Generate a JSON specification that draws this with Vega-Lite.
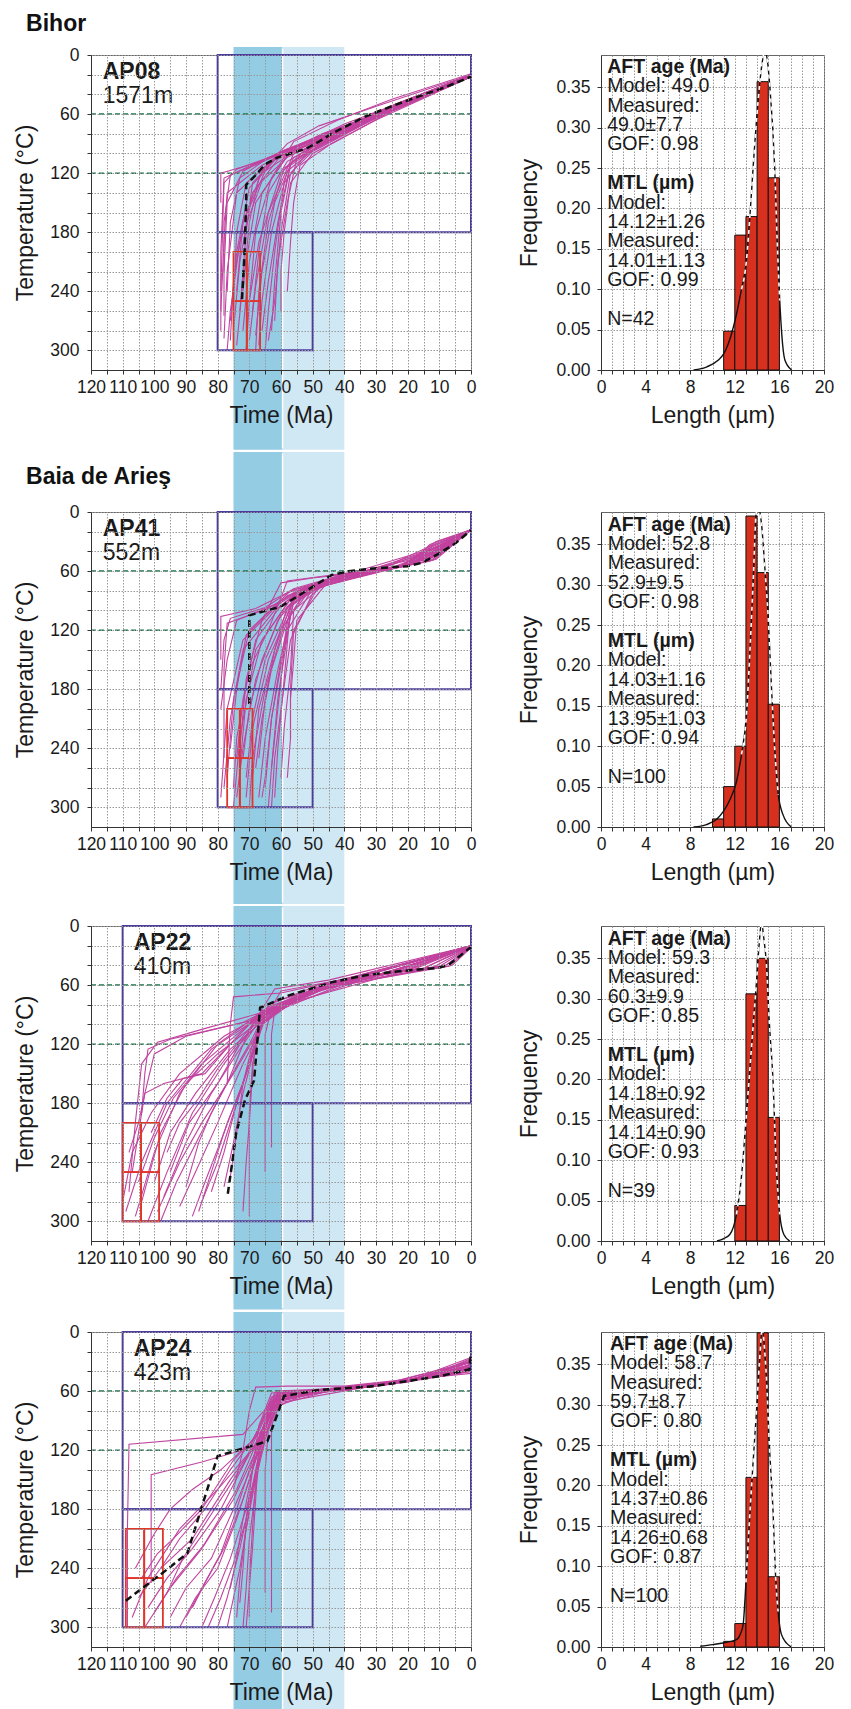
{
  "$schema": "https://vega.github.io/schema/vega-lite/v6.json",
  "background": "white",
  "padding": {"left": 14, "top": 12, "right": 0, "bottom": 0},
  "config": {
    "font": "Liberation Sans",
    "view": {"stroke": "#666", "strokeWidth": 1},
    "axis": {"labelFontSize": 17.5, "labelColor": "#1a1a1a", "titleFontSize": 23, "titleFontWeight": "normal", "titleColor": "#1a1a1a", "domainColor": "#333", "tickColor": "#333", "tickSize": 4, "gridColor": "#999", "gridDash": [1.5, 1.5], "gridWidth": 1, "labelOverlap": false, "labelFlush": false, "labelBound": false},
    "text": {"font": "Liberation Sans", "color": "#1a1a1a"}
  },
  "datasets": {
    "bands": [{"b": "d", "t": 75, "t2": 59.5}, {"b": "l", "t": 59.5, "t2": 40}],
    "green": [{"T": 60}, {"T": 120}],
    "boxA": [{"t": 80, "t2": 0, "T": 0, "T2": 180}, {"t": 80, "t2": 50, "T": 180, "T2": 300}],
    "boxB": [{"t": 110, "t2": 0, "T": 0, "T2": 180}, {"t": 110, "t2": 50, "T": 180, "T2": 300}],
    "r1": [{"t": 75, "t2": 70.8, "T": 200, "T2": 250}, {"t": 70.8, "t2": 66.6, "T": 200, "T2": 250}, {"t": 75, "t2": 70.8, "T": 250, "T2": 300}, {"t": 70.8, "t2": 66.6, "T": 250, "T2": 300}],
    "r2": [{"t": 77, "t2": 73, "T": 200, "T2": 250}, {"t": 73, "t2": 69, "T": 200, "T2": 250}, {"t": 77, "t2": 73, "T": 250, "T2": 300}, {"t": 73, "t2": 69, "T": 250, "T2": 300}],
    "r3": [{"t": 110, "t2": 104.2, "T": 200, "T2": 250}, {"t": 104.2, "t2": 98.5, "T": 200, "T2": 250}, {"t": 110, "t2": 104.2, "T": 250, "T2": 300}, {"t": 104.2, "t2": 98.5, "T": 250, "T2": 300}],
    "r4": [{"t": 109, "t2": 103.2, "T": 200, "T2": 250}, {"t": 103.2, "t2": 97.3, "T": 200, "T2": 250}, {"t": 109, "t2": 103.2, "T": 250, "T2": 300}, {"t": 103.2, "t2": 97.3, "T": 250, "T2": 300}],
    "b1": [{"t": 72.3, "T": 248}, {"t": 71.5, "T": 200}, {"t": 71, "T": 150}, {"t": 71, "T": 132}, {"t": 68, "T": 122}, {"t": 65, "T": 111}, {"t": 61, "T": 104}, {"t": 57, "T": 100}, {"t": 52, "T": 95}, {"t": 48, "T": 88}, {"t": 44, "T": 80}, {"t": 38, "T": 70}, {"t": 33, "T": 62}, {"t": 25, "T": 52}, {"t": 17.3, "T": 43}, {"t": 8, "T": 32.5}, {"t": 0, "T": 22}],
    "b2": [{"t": 70, "T": 195}, {"t": 70, "T": 105}, {"t": 60, "T": 96}, {"t": 54, "T": 84}, {"t": 49, "T": 74}, {"t": 44, "T": 64}, {"t": 38, "T": 60}, {"t": 33, "T": 58}, {"t": 25, "T": 56}, {"t": 20, "T": 55}, {"t": 15.4, "T": 51.5}, {"t": 10, "T": 42}, {"t": 5, "T": 32}, {"t": 0, "T": 18.6}],
    "b3": [{"t": 76.8, "T": 272}, {"t": 75.3, "T": 238}, {"t": 74.2, "T": 211}, {"t": 71.4, "T": 177}, {"t": 68.5, "T": 157}, {"t": 66.6, "T": 83}, {"t": 57.5, "T": 70.5}, {"t": 43.8, "T": 57}, {"t": 33.3, "T": 50}, {"t": 22.7, "T": 46}, {"t": 10.1, "T": 42.4}, {"t": 6.9, "T": 39}, {"t": 0, "T": 21.4}],
    "b4": [{"t": 109, "T": 273}, {"t": 97.5, "T": 245}, {"t": 89.6, "T": 225}, {"t": 80, "T": 126}, {"t": 64.3, "T": 111}, {"t": 59, "T": 65}, {"t": 48, "T": 59}, {"t": 30.6, "T": 55}, {"t": 10, "T": 45}, {"t": 0.5, "T": 38}, {"t": 0, "T": 20}],
    "p1": [
      {"i":1,"t":78,"T":288},{"i":1,"t":77,"T":220},{"i":1,"t":74,"T":140},{"i":1,"t":62,"T":104},{"i":1,"t":45,"T":84},{"i":1,"t":25,"T":52},{"i":1,"t":0,"T":21},
      {"i":2,"t":76,"T":270},{"i":2,"t":74,"T":200},{"i":2,"t":70,"T":135},{"i":2,"t":60,"T":100},{"i":2,"t":46,"T":82},{"i":2,"t":22,"T":48},{"i":2,"t":0,"T":20},
      {"i":3,"t":74,"T":295},{"i":3,"t":72,"T":230},{"i":3,"t":68,"T":150},{"i":3,"t":58,"T":102},{"i":3,"t":44,"T":86},{"i":3,"t":26,"T":55},{"i":3,"t":0,"T":22},
      {"i":4,"t":72,"T":280},{"i":4,"t":70,"T":210},{"i":4,"t":66,"T":140},{"i":4,"t":57,"T":98},{"i":4,"t":42,"T":78},{"i":4,"t":24,"T":50},{"i":4,"t":0,"T":20},
      {"i":5,"t":70,"T":290},{"i":5,"t":68,"T":235},{"i":5,"t":64,"T":160},{"i":5,"t":56,"T":100},{"i":5,"t":45,"T":88},{"i":5,"t":20,"T":46},{"i":5,"t":0,"T":21},
      {"i":6,"t":68,"T":285},{"i":6,"t":66,"T":220},{"i":6,"t":62,"T":150},{"i":6,"t":56,"T":104},{"i":6,"t":43,"T":82},{"i":6,"t":28,"T":60},{"i":6,"t":0,"T":22},
      {"i":7,"t":66,"T":280},{"i":7,"t":64,"T":230},{"i":7,"t":61,"T":170},{"i":7,"t":57,"T":110},{"i":7,"t":47,"T":90},{"i":7,"t":25,"T":55},{"i":7,"t":0,"T":21},
      {"i":8,"t":64,"T":290},{"i":8,"t":62,"T":250},{"i":8,"t":60,"T":180},{"i":8,"t":57,"T":120},{"i":8,"t":50,"T":98},{"i":8,"t":30,"T":64},{"i":8,"t":0,"T":22},
      {"i":9,"t":62,"T":270},{"i":9,"t":61,"T":210},{"i":9,"t":58,"T":150},{"i":9,"t":55,"T":105},{"i":9,"t":40,"T":80},{"i":9,"t":22,"T":50},{"i":9,"t":0,"T":20},
      {"i":10,"t":58,"T":240},{"i":10,"t":57,"T":190},{"i":10,"t":56,"T":150},{"i":10,"t":54,"T":112},{"i":10,"t":45,"T":92},{"i":10,"t":25,"T":57},{"i":10,"t":0,"T":21},
      {"i":11,"t":79,"T":280},{"i":11,"t":79,"T":200},{"i":11,"t":78,"T":125},{"i":11,"t":68,"T":110},{"i":11,"t":58,"T":96},{"i":11,"t":40,"T":76},{"i":11,"t":20,"T":46},{"i":11,"t":0,"T":20},
      {"i":12,"t":79,"T":150},{"i":12,"t":79,"T":120},{"i":12,"t":66,"T":108},{"i":12,"t":56,"T":95},{"i":12,"t":40,"T":70},{"i":12,"t":22,"T":48},{"i":12,"t":0,"T":20},
      {"i":13,"t":78,"T":265},{"i":13,"t":78,"T":170},{"i":13,"t":76,"T":122},{"i":13,"t":64,"T":106},{"i":13,"t":52,"T":88},{"i":13,"t":30,"T":60},{"i":13,"t":0,"T":21},
      {"i":14,"t":77,"T":300},{"i":14,"t":76,"T":260},{"i":14,"t":73,"T":190},{"i":14,"t":66,"T":128},{"i":14,"t":58,"T":104},{"i":14,"t":38,"T":72},{"i":14,"t":0,"T":21},
      {"i":15,"t":75,"T":250},{"i":15,"t":74,"T":180},{"i":15,"t":71,"T":130},{"i":15,"t":63,"T":108},{"i":15,"t":50,"T":85},{"i":15,"t":30,"T":62},{"i":15,"t":0,"T":22},
      {"i":16,"t":73,"T":260},{"i":16,"t":71,"T":180},{"i":16,"t":69,"T":130},{"i":16,"t":61,"T":102},{"i":16,"t":47,"T":80},{"i":16,"t":28,"T":58},{"i":16,"t":0,"T":21},
      {"i":17,"t":71,"T":300},{"i":17,"t":70,"T":250},{"i":17,"t":67,"T":190},{"i":17,"t":60,"T":120},{"i":17,"t":52,"T":95},{"i":17,"t":32,"T":65},{"i":17,"t":0,"T":22},
      {"i":18,"t":69,"T":260},{"i":18,"t":67,"T":200},{"i":18,"t":64,"T":140},{"i":18,"t":58,"T":108},{"i":18,"t":42,"T":80},{"i":18,"t":18,"T":44},{"i":18,"t":0,"T":20},
      {"i":19,"t":67,"T":295},{"i":19,"t":66,"T":250},{"i":19,"t":63,"T":180},{"i":19,"t":58,"T":118},{"i":19,"t":48,"T":92},{"i":19,"t":26,"T":56},{"i":19,"t":0,"T":21},
      {"i":20,"t":65,"T":300},{"i":20,"t":64,"T":260},{"i":20,"t":62,"T":200},{"i":20,"t":59,"T":130},{"i":20,"t":52,"T":100},{"i":20,"t":34,"T":70},{"i":20,"t":0,"T":22},
      {"i":21,"t":60,"T":260},{"i":21,"t":60,"T":220},{"i":21,"t":59,"T":180},{"i":21,"t":57,"T":130},{"i":21,"t":50,"T":100},{"i":21,"t":30,"T":66},{"i":21,"t":0,"T":22},
      {"i":22,"t":79,"T":240},{"i":22,"t":78,"T":130},{"i":22,"t":74,"T":116},{"i":22,"t":62,"T":102},{"i":22,"t":50,"T":86},{"i":22,"t":24,"T":52},{"i":22,"t":0,"T":21},
      {"i":23,"t":78,"T":220},{"i":23,"t":77,"T":150},{"i":23,"t":72,"T":118},{"i":23,"t":60,"T":98},{"i":23,"t":46,"T":80},{"i":23,"t":26,"T":54},{"i":23,"t":0,"T":20},
      {"i":24,"t":76,"T":290},{"i":24,"t":75,"T":230},{"i":24,"t":72,"T":170},{"i":24,"t":65,"T":118},{"i":24,"t":55,"T":96},{"i":24,"t":35,"T":68},{"i":24,"t":0,"T":22},
      {"i":25,"t":74,"T":240},{"i":25,"t":72,"T":170},{"i":25,"t":66,"T":118},{"i":25,"t":58,"T":90},{"i":25,"t":48,"T":72},{"i":25,"t":28,"T":50},{"i":25,"t":0,"T":20},
      {"i":26,"t":70,"T":250},{"i":26,"t":68,"T":180},{"i":26,"t":63,"T":125},{"i":26,"t":56,"T":88},{"i":26,"t":42,"T":66},{"i":26,"t":25,"T":45},{"i":26,"t":0,"T":19},
      {"i":27,"t":77,"T":240},{"i":27,"t":76,"T":170},{"i":27,"t":73,"T":125},{"i":27,"t":64,"T":104},{"i":27,"t":52,"T":90},{"i":27,"t":32,"T":64},{"i":27,"t":0,"T":21},
      {"i":28,"t":75,"T":280},{"i":28,"t":73,"T":210},{"i":28,"t":69,"T":140},{"i":28,"t":61,"T":106},{"i":28,"t":49,"T":88},{"i":28,"t":27,"T":56},{"i":28,"t":0,"T":22},
      {"i":29,"t":72,"T":240},{"i":29,"t":70,"T":170},{"i":29,"t":67,"T":125},{"i":29,"t":60,"T":98},{"i":29,"t":44,"T":78},{"i":29,"t":23,"T":49},{"i":29,"t":0,"T":20},
      {"i":30,"t":68,"T":300},{"i":30,"t":67,"T":240},{"i":30,"t":64,"T":170},{"i":30,"t":59,"T":115},{"i":30,"t":50,"T":94},{"i":30,"t":29,"T":61},{"i":30,"t":0,"T":21},
      {"i":31,"t":63,"T":280},{"i":31,"t":62,"T":230},{"i":31,"t":60,"T":160},{"i":31,"t":57,"T":112},{"i":31,"t":46,"T":88},{"i":31,"t":21,"T":48},{"i":31,"t":0,"T":21},
      {"i":32,"t":79,"T":260},{"i":32,"t":78,"T":190},{"i":32,"t":77,"T":140},{"i":32,"t":66,"T":112},{"i":32,"t":54,"T":94},{"i":32,"t":36,"T":70},{"i":32,"t":0,"T":22}
    ],
    "p2": [
      {"i":1,"t":79,"T":290},{"i":1,"t":77,"T":200},{"i":1,"t":72,"T":130},{"i":1,"t":58,"T":85},{"i":1,"t":40,"T":64},{"i":1,"t":23,"T":56},{"i":1,"t":12,"T":45},{"i":1,"t":0,"T":18},
      {"i":2,"t":77,"T":270},{"i":2,"t":75,"T":190},{"i":2,"t":70,"T":120},{"i":2,"t":57,"T":80},{"i":2,"t":38,"T":62},{"i":2,"t":22,"T":55},{"i":2,"t":13,"T":38},{"i":2,"t":0,"T":18},
      {"i":3,"t":75,"T":300},{"i":3,"t":73,"T":230},{"i":3,"t":68,"T":140},{"i":3,"t":57,"T":88},{"i":3,"t":42,"T":66},{"i":3,"t":24,"T":57},{"i":3,"t":11,"T":48},{"i":3,"t":0,"T":18},
      {"i":4,"t":73,"T":260},{"i":4,"t":71,"T":190},{"i":4,"t":66,"T":130},{"i":4,"t":56,"T":84},{"i":4,"t":40,"T":63},{"i":4,"t":20,"T":54},{"i":4,"t":13,"T":33},{"i":4,"t":0,"T":18},
      {"i":5,"t":71,"T":290},{"i":5,"t":69,"T":220},{"i":5,"t":64,"T":150},{"i":5,"t":56,"T":90},{"i":5,"t":44,"T":67},{"i":5,"t":25,"T":58},{"i":5,"t":12,"T":42},{"i":5,"t":0,"T":18},
      {"i":6,"t":69,"T":270},{"i":6,"t":67,"T":200},{"i":6,"t":62,"T":140},{"i":6,"t":56,"T":86},{"i":6,"t":40,"T":64},{"i":6,"t":22,"T":56},{"i":6,"t":10,"T":37},{"i":6,"t":0,"T":18},
      {"i":7,"t":67,"T":290},{"i":7,"t":65,"T":230},{"i":7,"t":61,"T":160},{"i":7,"t":56,"T":92},{"i":7,"t":46,"T":70},{"i":7,"t":26,"T":58},{"i":7,"t":13,"T":50},{"i":7,"t":0,"T":18},
      {"i":8,"t":65,"T":280},{"i":8,"t":63,"T":210},{"i":8,"t":60,"T":150},{"i":8,"t":57,"T":95},{"i":8,"t":43,"T":67},{"i":8,"t":21,"T":55},{"i":8,"t":11,"T":44},{"i":8,"t":0,"T":18},
      {"i":9,"t":63,"T":260},{"i":9,"t":61,"T":200},{"i":9,"t":59,"T":140},{"i":9,"t":56,"T":88},{"i":9,"t":38,"T":62},{"i":9,"t":23,"T":56},{"i":9,"t":12,"T":35},{"i":9,"t":0,"T":18},
      {"i":10,"t":60,"T":270},{"i":10,"t":59,"T":220},{"i":10,"t":57,"T":160},{"i":10,"t":56,"T":100},{"i":10,"t":45,"T":70},{"i":10,"t":24,"T":57},{"i":10,"t":13,"T":46},{"i":10,"t":0,"T":18},
      {"i":11,"t":58,"T":270},{"i":11,"t":57,"T":230},{"i":11,"t":57,"T":180},{"i":11,"t":56,"T":120},{"i":11,"t":48,"T":75},{"i":11,"t":26,"T":58},{"i":11,"t":12,"T":40},{"i":11,"t":0,"T":18},
      {"i":12,"t":57,"T":230},{"i":12,"t":57,"T":190},{"i":12,"t":56,"T":150},{"i":12,"t":55,"T":110},{"i":12,"t":46,"T":74},{"i":12,"t":22,"T":55},{"i":12,"t":11,"T":30},{"i":12,"t":0,"T":18},
      {"i":13,"t":79,"T":150},{"i":13,"t":79,"T":106},{"i":13,"t":68,"T":98},{"i":13,"t":58,"T":82},{"i":13,"t":40,"T":63},{"i":13,"t":22,"T":55},{"i":13,"t":12,"T":38},{"i":13,"t":0,"T":18},
      {"i":14,"t":78,"T":250},{"i":14,"t":78,"T":160},{"i":14,"t":77,"T":113},{"i":14,"t":64,"T":98},{"i":14,"t":55,"T":80},{"i":14,"t":38,"T":62},{"i":14,"t":20,"T":54},{"i":14,"t":0,"T":18},
      {"i":15,"t":79,"T":200},{"i":15,"t":77,"T":150},{"i":15,"t":74,"T":110},{"i":15,"t":62,"T":94},{"i":15,"t":52,"T":76},{"i":15,"t":30,"T":60},{"i":15,"t":14,"T":50},{"i":15,"t":0,"T":18},
      {"i":16,"t":76,"T":240},{"i":16,"t":74,"T":180},{"i":16,"t":71,"T":125},{"i":16,"t":62,"T":96},{"i":16,"t":54,"T":80},{"i":16,"t":35,"T":61},{"i":16,"t":12,"T":43},{"i":16,"t":0,"T":18},
      {"i":17,"t":74,"T":290},{"i":17,"t":72,"T":240},{"i":17,"t":68,"T":170},{"i":17,"t":61,"T":110},{"i":17,"t":55,"T":86},{"i":17,"t":40,"T":64},{"i":17,"t":11,"T":36},{"i":17,"t":0,"T":18},
      {"i":18,"t":72,"T":250},{"i":18,"t":70,"T":200},{"i":18,"t":66,"T":150},{"i":18,"t":60,"T":104},{"i":18,"t":54,"T":82},{"i":18,"t":28,"T":59},{"i":18,"t":13,"T":47},{"i":18,"t":0,"T":18},
      {"i":19,"t":70,"T":300},{"i":19,"t":69,"T":250},{"i":19,"t":65,"T":180},{"i":19,"t":59,"T":115},{"i":19,"t":53,"T":84},{"i":19,"t":36,"T":62},{"i":19,"t":12,"T":41},{"i":19,"t":0,"T":18},
      {"i":20,"t":68,"T":260},{"i":20,"t":66,"T":210},{"i":20,"t":63,"T":160},{"i":20,"t":58,"T":110},{"i":20,"t":52,"T":80},{"i":20,"t":30,"T":60},{"i":20,"t":10,"T":35},{"i":20,"t":0,"T":18},
      {"i":21,"t":66,"T":290},{"i":21,"t":65,"T":270},{"i":21,"t":63,"T":210},{"i":21,"t":58,"T":120},{"i":21,"t":50,"T":78},{"i":21,"t":24,"T":57},{"i":21,"t":12,"T":44},{"i":21,"t":0,"T":18},
      {"i":22,"t":64,"T":300},{"i":22,"t":63,"T":260},{"i":22,"t":61,"T":190},{"i":22,"t":57,"T":105},{"i":22,"t":50,"T":76},{"i":22,"t":34,"T":61},{"i":22,"t":13,"T":39},{"i":22,"t":0,"T":18},
      {"i":23,"t":75,"T":280},{"i":23,"t":74,"T":230},{"i":23,"t":70,"T":160},{"i":23,"t":64,"T":120},{"i":23,"t":58,"T":70},{"i":23,"t":44,"T":64},{"i":23,"t":20,"T":54},{"i":23,"t":0,"T":18},
      {"i":24,"t":73,"T":240},{"i":24,"t":71,"T":170},{"i":24,"t":66,"T":110},{"i":24,"t":60,"T":72},{"i":24,"t":50,"T":67},{"i":24,"t":30,"T":60},{"i":24,"t":11,"T":32},{"i":24,"t":0,"T":18},
      {"i":25,"t":62,"T":290},{"i":25,"t":61,"T":240},{"i":25,"t":59,"T":170},{"i":25,"t":57,"T":96},{"i":25,"t":47,"T":72},{"i":25,"t":25,"T":57},{"i":25,"t":12,"T":49},{"i":25,"t":0,"T":18},
      {"i":26,"t":78,"T":280},{"i":26,"t":76,"T":210},{"i":26,"t":72,"T":140},{"i":26,"t":62,"T":100},{"i":26,"t":54,"T":80},{"i":26,"t":38,"T":63},{"i":26,"t":21,"T":55},{"i":26,"t":12,"T":42},{"i":26,"t":0,"T":18},
      {"i":27,"t":74,"T":250},{"i":27,"t":72,"T":190},{"i":27,"t":68,"T":130},{"i":27,"t":60,"T":95},{"i":27,"t":53,"T":78},{"i":27,"t":36,"T":62},{"i":27,"t":22,"T":55},{"i":27,"t":12,"T":37},{"i":27,"t":0,"T":18},
      {"i":28,"t":71,"T":270},{"i":28,"t":69,"T":210},{"i":28,"t":65,"T":150},{"i":28,"t":58,"T":100},{"i":28,"t":51,"T":76},{"i":28,"t":32,"T":60},{"i":28,"t":23,"T":56},{"i":28,"t":13,"T":44},{"i":28,"t":0,"T":18},
      {"i":29,"t":67,"T":250},{"i":29,"t":65,"T":190},{"i":29,"t":62,"T":140},{"i":29,"t":58,"T":96},{"i":29,"t":50,"T":74},{"i":29,"t":35,"T":61},{"i":29,"t":20,"T":54},{"i":29,"t":11,"T":40},{"i":29,"t":0,"T":18},
      {"i":30,"t":63,"T":300},{"i":30,"t":62,"T":250},{"i":30,"t":60,"T":200},{"i":30,"t":57,"T":130},{"i":30,"t":49,"T":76},{"i":30,"t":30,"T":60},{"i":30,"t":24,"T":57},{"i":30,"t":12,"T":46},{"i":30,"t":0,"T":18},
      {"i":31,"t":79,"T":180},{"i":31,"t":78,"T":130},{"i":31,"t":76,"T":108},{"i":31,"t":65,"T":97},{"i":31,"t":56,"T":78},{"i":31,"t":40,"T":63},{"i":31,"t":22,"T":55},{"i":31,"t":12,"T":34},{"i":31,"t":0,"T":18}
    ],
    "p3": [
      {"i":1,"t":109,"T":290},{"i":1,"t":104,"T":240},{"i":1,"t":96,"T":180},{"i":1,"t":82,"T":125},{"i":1,"t":68,"T":95},{"i":1,"t":50,"T":64},{"i":1,"t":25,"T":47},{"i":1,"t":0,"T":20},
      {"i":2,"t":108,"T":270},{"i":2,"t":106,"T":200},{"i":2,"t":104,"T":140},{"i":2,"t":99,"T":118},{"i":2,"t":85,"T":105},{"i":2,"t":66,"T":88},{"i":2,"t":40,"T":56},{"i":2,"t":0,"T":20},
      {"i":3,"t":107,"T":250},{"i":3,"t":103,"T":170},{"i":3,"t":100,"T":130},{"i":3,"t":90,"T":112},{"i":3,"t":72,"T":98},{"i":3,"t":55,"T":70},{"i":3,"t":30,"T":50},{"i":3,"t":0,"T":21},
      {"i":4,"t":106,"T":295},{"i":4,"t":100,"T":230},{"i":4,"t":92,"T":170},{"i":4,"t":80,"T":120},{"i":4,"t":68,"T":92},{"i":4,"t":45,"T":60},{"i":4,"t":20,"T":45},{"i":4,"t":0,"T":20},
      {"i":5,"t":104,"T":280},{"i":5,"t":98,"T":210},{"i":5,"t":90,"T":160},{"i":5,"t":80,"T":130},{"i":5,"t":67,"T":97},{"i":5,"t":50,"T":66},{"i":5,"t":8,"T":40},{"i":5,"t":0,"T":21},
      {"i":6,"t":102,"T":300},{"i":6,"t":96,"T":250},{"i":6,"t":88,"T":190},{"i":6,"t":78,"T":140},{"i":6,"t":66,"T":90},{"i":6,"t":45,"T":58},{"i":6,"t":15,"T":43},{"i":6,"t":0,"T":20},
      {"i":7,"t":100,"T":260},{"i":7,"t":95,"T":210},{"i":7,"t":87,"T":170},{"i":7,"t":76,"T":125},{"i":7,"t":67,"T":100},{"i":7,"t":55,"T":72},{"i":7,"t":30,"T":51},{"i":7,"t":0,"T":21},
      {"i":8,"t":99,"T":290},{"i":8,"t":92,"T":240},{"i":8,"t":85,"T":200},{"i":8,"t":75,"T":150},{"i":8,"t":65,"T":95},{"i":8,"t":50,"T":65},{"i":8,"t":7,"T":41},{"i":8,"t":0,"T":21},
      {"i":9,"t":97,"T":275},{"i":9,"t":90,"T":220},{"i":9,"t":82,"T":170},{"i":9,"t":74,"T":130},{"i":9,"t":66,"T":92},{"i":9,"t":48,"T":62},{"i":9,"t":25,"T":46},{"i":9,"t":0,"T":20},
      {"i":10,"t":95,"T":250},{"i":10,"t":89,"T":200},{"i":10,"t":80,"T":160},{"i":10,"t":73,"T":120},{"i":10,"t":64,"T":88},{"i":10,"t":40,"T":55},{"i":10,"t":12,"T":42},{"i":10,"t":0,"T":21},
      {"i":11,"t":92,"T":285},{"i":11,"t":87,"T":250},{"i":11,"t":80,"T":200},{"i":11,"t":72,"T":140},{"i":11,"t":65,"T":96},{"i":11,"t":52,"T":68},{"i":11,"t":20,"T":44},{"i":11,"t":0,"T":20},
      {"i":12,"t":88,"T":295},{"i":12,"t":84,"T":260},{"i":12,"t":78,"T":210},{"i":12,"t":71,"T":150},{"i":12,"t":66,"T":100},{"i":12,"t":50,"T":63},{"i":12,"t":6,"T":40},{"i":12,"t":0,"T":22},
      {"i":13,"t":85,"T":280},{"i":13,"t":80,"T":240},{"i":13,"t":75,"T":190},{"i":13,"t":70,"T":140},{"i":13,"t":65,"T":90},{"i":13,"t":45,"T":59},{"i":13,"t":18,"T":44},{"i":13,"t":0,"T":20},
      {"i":14,"t":82,"T":270},{"i":14,"t":78,"T":230},{"i":14,"t":74,"T":180},{"i":14,"t":69,"T":130},{"i":14,"t":64,"T":85},{"i":14,"t":40,"T":54},{"i":14,"t":10,"T":41},{"i":14,"t":0,"T":21},
      {"i":15,"t":78,"T":265},{"i":15,"t":75,"T":220},{"i":15,"t":72,"T":170},{"i":15,"t":68,"T":120},{"i":15,"t":64,"T":80},{"i":15,"t":48,"T":60},{"i":15,"t":22,"T":45},{"i":15,"t":0,"T":20},
      {"i":16,"t":76,"T":255},{"i":16,"t":74,"T":210},{"i":16,"t":72,"T":160},{"i":16,"t":69,"T":120},{"i":16,"t":65,"T":92},{"i":16,"t":52,"T":68},{"i":16,"t":30,"T":50},{"i":16,"t":0,"T":21},
      {"i":17,"t":70,"T":295},{"i":17,"t":70,"T":250},{"i":17,"t":70,"T":190},{"i":17,"t":69,"T":140},{"i":17,"t":66,"T":100},{"i":17,"t":55,"T":70},{"i":17,"t":28,"T":49},{"i":17,"t":0,"T":20},
      {"i":18,"t":65,"T":250},{"i":18,"t":65,"T":200},{"i":18,"t":65,"T":150},{"i":18,"t":65,"T":110},{"i":18,"t":63,"T":84},{"i":18,"t":45,"T":58},{"i":18,"t":15,"T":43},{"i":18,"t":0,"T":21},
      {"i":19,"t":63,"T":225},{"i":19,"t":63,"T":180},{"i":19,"t":63,"T":140},{"i":19,"t":63,"T":110},{"i":19,"t":62,"T":86},{"i":19,"t":40,"T":55},{"i":19,"t":8,"T":40},{"i":19,"t":0,"T":22},
      {"i":20,"t":104,"T":190},{"i":20,"t":103,"T":150},{"i":20,"t":102,"T":125},{"i":20,"t":95,"T":115},{"i":20,"t":80,"T":104},{"i":20,"t":68,"T":95},{"i":20,"t":35,"T":52},{"i":20,"t":0,"T":20},
      {"i":21,"t":108,"T":230},{"i":21,"t":105,"T":200},{"i":21,"t":103,"T":170},{"i":21,"t":97,"T":160},{"i":21,"t":85,"T":150},{"i":21,"t":70,"T":100},{"i":21,"t":50,"T":64},{"i":21,"t":0,"T":20},
      {"i":22,"t":101,"T":210},{"i":22,"t":96,"T":175},{"i":22,"t":91,"T":155},{"i":22,"t":84,"T":150},{"i":22,"t":76,"T":120},{"i":22,"t":66,"T":86},{"i":22,"t":45,"T":60},{"i":22,"t":0,"T":21},
      {"i":23,"t":96,"T":230},{"i":23,"t":92,"T":200},{"i":23,"t":86,"T":175},{"i":23,"t":80,"T":145},{"i":23,"t":72,"T":112},{"i":23,"t":63,"T":78},{"i":23,"t":40,"T":55},{"i":23,"t":0,"T":20},
      {"i":24,"t":72,"T":290},{"i":24,"t":71,"T":240},{"i":24,"t":70,"T":200},{"i":24,"t":69,"T":150},{"i":24,"t":68,"T":110},{"i":24,"t":60,"T":66},{"i":24,"t":35,"T":51},{"i":24,"t":0,"T":20},
      {"i":25,"t":90,"T":265},{"i":25,"t":86,"T":220},{"i":25,"t":82,"T":190},{"i":25,"t":77,"T":160},{"i":25,"t":70,"T":105},{"i":25,"t":62,"T":64},{"i":25,"t":45,"T":55},{"i":25,"t":0,"T":20},
      {"i":26,"t":77,"T":160},{"i":26,"t":76,"T":100},{"i":26,"t":75,"T":72},{"i":26,"t":60,"T":68},{"i":26,"t":40,"T":54},{"i":26,"t":0,"T":20},
      {"i":27,"t":105,"T":260},{"i":27,"t":100,"T":215},{"i":27,"t":94,"T":175},{"i":27,"t":85,"T":140},{"i":27,"t":72,"T":105},{"i":27,"t":64,"T":82},{"i":27,"t":40,"T":55},{"i":27,"t":0,"T":20},
      {"i":28,"t":98,"T":300},{"i":28,"t":93,"T":260},{"i":28,"t":86,"T":215},{"i":28,"t":78,"T":165},{"i":28,"t":70,"T":120},{"i":28,"t":65,"T":88},{"i":28,"t":30,"T":50},{"i":28,"t":0,"T":21},
      {"i":29,"t":86,"T":290},{"i":29,"t":82,"T":250},{"i":29,"t":77,"T":200},{"i":29,"t":72,"T":160},{"i":29,"t":68,"T":115},{"i":29,"t":64,"T":84},{"i":29,"t":20,"T":45},{"i":29,"t":0,"T":20},
      {"i":30,"t":110,"T":280},{"i":30,"t":107,"T":230},{"i":30,"t":101,"T":190},{"i":30,"t":92,"T":150},{"i":30,"t":78,"T":112},{"i":30,"t":66,"T":90},{"i":30,"t":45,"T":58},{"i":30,"t":0,"T":21}
    ],
    "p4": [
      {"i":1,"t":108.5,"T":300},{"i":1,"t":108.5,"T":200},{"i":1,"t":108,"T":114},{"i":1,"t":72,"T":104},{"i":1,"t":64,"T":75},{"i":1,"t":62,"T":62},{"i":1,"t":40,"T":57},{"i":1,"t":20,"T":50},{"i":1,"t":0,"T":30},
      {"i":2,"t":101,"T":255},{"i":2,"t":101,"T":190},{"i":2,"t":101,"T":145},{"i":2,"t":85,"T":132},{"i":2,"t":70,"T":118},{"i":2,"t":63,"T":70},{"i":2,"t":45,"T":58},{"i":2,"t":20,"T":49},{"i":2,"t":0,"T":35},
      {"i":3,"t":107,"T":290},{"i":3,"t":102,"T":250},{"i":3,"t":92,"T":200},{"i":3,"t":80,"T":160},{"i":3,"t":68,"T":115},{"i":3,"t":62,"T":68},{"i":3,"t":40,"T":57},{"i":3,"t":15,"T":47},{"i":3,"t":0,"T":28},
      {"i":4,"t":105,"T":270},{"i":4,"t":98,"T":240},{"i":4,"t":88,"T":210},{"i":4,"t":76,"T":150},{"i":4,"t":67,"T":110},{"i":4,"t":61,"T":65},{"i":4,"t":35,"T":56},{"i":4,"t":10,"T":45},{"i":4,"t":0,"T":38},
      {"i":5,"t":103,"T":300},{"i":5,"t":95,"T":260},{"i":5,"t":85,"T":220},{"i":5,"t":74,"T":160},{"i":5,"t":66,"T":100},{"i":5,"t":60,"T":64},{"i":5,"t":30,"T":55},{"i":5,"t":8,"T":44},{"i":5,"t":0,"T":32},
      {"i":6,"t":100,"T":285},{"i":6,"t":93,"T":250},{"i":6,"t":84,"T":215},{"i":6,"t":75,"T":170},{"i":6,"t":67,"T":115},{"i":6,"t":62,"T":70},{"i":6,"t":45,"T":59},{"i":6,"t":15,"T":48},{"i":6,"t":0,"T":40},
      {"i":7,"t":98,"T":240},{"i":7,"t":92,"T":210},{"i":7,"t":84,"T":180},{"i":7,"t":76,"T":140},{"i":7,"t":68,"T":105},{"i":7,"t":63,"T":66},{"i":7,"t":40,"T":58},{"i":7,"t":20,"T":50},{"i":7,"t":0,"T":26},
      {"i":8,"t":95,"T":290},{"i":8,"t":90,"T":260},{"i":8,"t":82,"T":230},{"i":8,"t":75,"T":180},{"i":8,"t":67,"T":120},{"i":8,"t":61,"T":72},{"i":8,"t":35,"T":57},{"i":8,"t":10,"T":44},{"i":8,"t":0,"T":36},
      {"i":9,"t":92,"T":300},{"i":9,"t":87,"T":270},{"i":9,"t":80,"T":240},{"i":9,"t":74,"T":190},{"i":9,"t":68,"T":130},{"i":9,"t":62,"T":68},{"i":9,"t":50,"T":60},{"i":9,"t":18,"T":49},{"i":9,"t":0,"T":30},
      {"i":10,"t":88,"T":280},{"i":10,"t":84,"T":255},{"i":10,"t":78,"T":220},{"i":10,"t":72,"T":170},{"i":10,"t":66,"T":110},{"i":10,"t":61,"T":62},{"i":10,"t":38,"T":56},{"i":10,"t":12,"T":46},{"i":10,"t":0,"T":42},
      {"i":11,"t":85,"T":300},{"i":11,"t":81,"T":270},{"i":11,"t":76,"T":230},{"i":11,"t":71,"T":180},{"i":11,"t":66,"T":120},{"i":11,"t":62,"T":75},{"i":11,"t":45,"T":60},{"i":11,"t":20,"T":51},{"i":11,"t":0,"T":33},
      {"i":12,"t":80,"T":300},{"i":12,"t":77,"T":270},{"i":12,"t":73,"T":220},{"i":12,"t":69,"T":160},{"i":12,"t":65,"T":105},{"i":12,"t":60,"T":66},{"i":12,"t":30,"T":55},{"i":12,"t":8,"T":43},{"i":12,"t":0,"T":38},
      {"i":13,"t":76,"T":260},{"i":13,"t":74,"T":230},{"i":13,"t":72,"T":190},{"i":13,"t":69,"T":140},{"i":13,"t":66,"T":100},{"i":13,"t":61,"T":60},{"i":13,"t":40,"T":57},{"i":13,"t":15,"T":47},{"i":13,"t":0,"T":27},
      {"i":14,"t":74,"T":290},{"i":14,"t":73,"T":250},{"i":14,"t":71,"T":200},{"i":14,"t":68,"T":150},{"i":14,"t":65,"T":110},{"i":14,"t":62,"T":70},{"i":14,"t":45,"T":59},{"i":14,"t":10,"T":45},{"i":14,"t":0,"T":35},
      {"i":15,"t":73,"T":275},{"i":15,"t":72,"T":240},{"i":15,"t":71,"T":190},{"i":15,"t":69,"T":140},{"i":15,"t":67,"T":95},{"i":15,"t":63,"T":62},{"i":15,"t":35,"T":56},{"i":15,"t":18,"T":49},{"i":15,"t":0,"T":40},
      {"i":16,"t":72,"T":300},{"i":16,"t":71,"T":260},{"i":16,"t":70,"T":210},{"i":16,"t":68,"T":160},{"i":16,"t":66,"T":110},{"i":16,"t":60,"T":68},{"i":16,"t":40,"T":58},{"i":16,"t":12,"T":46},{"i":16,"t":0,"T":30},
      {"i":17,"t":70,"T":290},{"i":17,"t":70,"T":250},{"i":17,"t":69,"T":200},{"i":17,"t":68,"T":150},{"i":17,"t":66,"T":100},{"i":17,"t":62,"T":64},{"i":17,"t":50,"T":60},{"i":17,"t":20,"T":50},{"i":17,"t":0,"T":37},
      {"i":18,"t":65,"T":265},{"i":18,"t":65,"T":220},{"i":18,"t":65,"T":180},{"i":18,"t":65,"T":140},{"i":18,"t":64,"T":100},{"i":18,"t":60,"T":66},{"i":18,"t":38,"T":57},{"i":18,"t":10,"T":44},{"i":18,"t":0,"T":33},
      {"i":19,"t":63,"T":285},{"i":19,"t":63,"T":240},{"i":19,"t":63,"T":180},{"i":19,"t":63,"T":130},{"i":19,"t":63,"T":95},{"i":19,"t":60,"T":70},{"i":19,"t":42,"T":58},{"i":19,"t":15,"T":48},{"i":19,"t":0,"T":29},
      {"i":20,"t":75,"T":160},{"i":20,"t":72,"T":120},{"i":20,"t":70,"T":80},{"i":20,"t":68,"T":56},{"i":20,"t":58,"T":55},{"i":20,"t":40,"T":55},{"i":20,"t":20,"T":48},{"i":20,"t":0,"T":36},
      {"i":21,"t":104,"T":250},{"i":21,"t":99,"T":225},{"i":21,"t":94,"T":210},{"i":21,"t":85,"T":180},{"i":21,"t":75,"T":130},{"i":21,"t":66,"T":100},{"i":21,"t":61,"T":64},{"i":21,"t":25,"T":53},{"i":21,"t":0,"T":31},
      {"i":22,"t":96,"T":265},{"i":22,"t":91,"T":230},{"i":22,"t":86,"T":205},{"i":22,"t":80,"T":175},{"i":22,"t":72,"T":135},{"i":22,"t":64,"T":80},{"i":22,"t":50,"T":60},{"i":22,"t":15,"T":47},{"i":22,"t":0,"T":39},
      {"i":23,"t":77,"T":300},{"i":23,"t":75,"T":270},{"i":23,"t":73,"T":240},{"i":23,"t":70,"T":180},{"i":23,"t":67,"T":125},{"i":23,"t":63,"T":72},{"i":23,"t":45,"T":59},{"i":23,"t":20,"T":50},{"i":23,"t":0,"T":34},
      {"i":24,"t":106,"T":240},{"i":24,"t":100,"T":205},{"i":24,"t":95,"T":180},{"i":24,"t":88,"T":160},{"i":24,"t":79,"T":140},{"i":24,"t":69,"T":110},{"i":24,"t":62,"T":65},{"i":24,"t":30,"T":55},{"i":24,"t":0,"T":30},
      {"i":25,"t":102,"T":280},{"i":25,"t":96,"T":250},{"i":25,"t":88,"T":220},{"i":25,"t":79,"T":180},{"i":25,"t":71,"T":130},{"i":25,"t":65,"T":95},{"i":25,"t":60,"T":62},{"i":25,"t":25,"T":53},{"i":25,"t":0,"T":33},
      {"i":26,"t":90,"T":290},{"i":26,"t":85,"T":260},{"i":26,"t":79,"T":225},{"i":26,"t":74,"T":180},{"i":26,"t":69,"T":130},{"i":26,"t":65,"T":90},{"i":26,"t":61,"T":63},{"i":26,"t":15,"T":47},{"i":26,"t":0,"T":37},
      {"i":27,"t":71,"T":300},{"i":27,"t":70,"T":260},{"i":27,"t":69,"T":220},{"i":27,"t":68,"T":170},{"i":27,"t":67,"T":120},{"i":27,"t":64,"T":80},{"i":27,"t":60,"T":64},{"i":27,"t":30,"T":55},{"i":27,"t":0,"T":31},
      {"i":28,"t":83,"T":300},{"i":28,"t":79,"T":270},{"i":28,"t":75,"T":235},{"i":28,"t":71,"T":190},{"i":28,"t":68,"T":140},{"i":28,"t":65,"T":95},{"i":28,"t":60,"T":66},{"i":28,"t":20,"T":50},{"i":28,"t":0,"T":39}
    ],
    "h1": [{"d":11,"d2":12,"v":0.048},{"d":12,"d2":13,"v":0.167},{"d":13,"d2":14,"v":0.19},{"d":14,"d2":15,"v":0.357},{"d":15,"d2":16,"v":0.238}],
    "h2": [{"d":10,"d2":11,"v":0.01},{"d":11,"d2":12,"v":0.05},{"d":12,"d2":13,"v":0.1},{"d":13,"d2":14,"v":0.385},{"d":14,"d2":15,"v":0.315},{"d":15,"d2":16,"v":0.152}],
    "h3": [{"d":12,"d2":13,"v":0.044},{"d":13,"d2":14,"v":0.306},{"d":14,"d2":15,"v":0.35},{"d":15,"d2":16,"v":0.153}],
    "h4": [{"d":11,"d2":12,"v":0.007},{"d":12,"d2":13,"v":0.029},{"d":13,"d2":14,"v":0.21},{"d":14,"d2":15,"v":0.389},{"d":15,"d2":16,"v":0.087}],
    "c1": [{"d":8.3,"v":0},{"d":9.5,"v":0.004},{"d":10.5,"v":0.012},{"d":11,"v":0.02},{"d":11.6,"v":0.04},{"d":12.15,"v":0.069},{"d":12.6,"v":0.1},{"d":13.04,"v":0.135},{"d":13.4,"v":0.2},{"d":13.64,"v":0.25},{"d":14.09,"v":0.333},{"d":14.4,"v":0.375},{"d":14.7,"v":0.395},{"d":14.95,"v":0.38},{"d":15.13,"v":0.353},{"d":15.58,"v":0.25},{"d":15.8,"v":0.16},{"d":16.03,"v":0.086},{"d":16.3,"v":0.03},{"d":16.5,"v":0.012},{"d":17.1,"v":0}],
    "c2": [{"d":8.3,"v":0},{"d":9.46,"v":0.003},{"d":10.4,"v":0.01},{"d":10.96,"v":0.019},{"d":11.6,"v":0.035},{"d":12.15,"v":0.056},{"d":12.6,"v":0.09},{"d":13.04,"v":0.138},{"d":13.4,"v":0.23},{"d":13.64,"v":0.302},{"d":13.94,"v":0.391},{"d":14.1,"v":0.396},{"d":14.39,"v":0.376},{"d":14.7,"v":0.32},{"d":14.99,"v":0.261},{"d":15.3,"v":0.17},{"d":15.58,"v":0.097},{"d":15.9,"v":0.04},{"d":16.33,"v":0.015},{"d":17.07,"v":0}],
    "c3": [{"d":10.4,"v":0},{"d":11,"v":0.003},{"d":11.55,"v":0.008},{"d":12.15,"v":0.033},{"d":12.6,"v":0.08},{"d":13.04,"v":0.156},{"d":13.5,"v":0.24},{"d":13.94,"v":0.32},{"d":14.2,"v":0.37},{"d":14.39,"v":0.395},{"d":14.6,"v":0.375},{"d":14.84,"v":0.342},{"d":15.1,"v":0.27},{"d":15.43,"v":0.198},{"d":15.7,"v":0.1},{"d":16.03,"v":0.033},{"d":16.4,"v":0.008},{"d":16.93,"v":0}],
    "c4": [{"d":8.9,"v":0.001},{"d":10,"v":0.003},{"d":10.96,"v":0.005},{"d":12.15,"v":0.009},{"d":12.5,"v":0.016},{"d":12.75,"v":0.028},{"d":13,"v":0.08},{"d":13.19,"v":0.127},{"d":13.6,"v":0.22},{"d":13.94,"v":0.291},{"d":14.2,"v":0.35},{"d":14.48,"v":0.395},{"d":14.66,"v":0.37},{"d":14.84,"v":0.333},{"d":15.1,"v":0.25},{"d":15.43,"v":0.168},{"d":15.65,"v":0.09},{"d":15.88,"v":0.044},{"d":16.1,"v":0.02},{"d":16.33,"v":0.011},{"d":17.07,"v":0}]
  },
  "spacing": 0,
  "vconcat": [
    {
      "spacing": 41,
      "hconcat": [
        {
          "width": 380, "height": 315,
          "encoding": {
            "x": {"type": "quantitative", "scale": {"domain": [120, 0], "nice": false, "zero": false}, "axis": {"title": "Time (Ma)", "values": [120,115,110,105,100,95,90,85,80,75,70,65,60,55,50,45,40,35,30,25,20,15,10,5,0], "labelExpr": "datum.value % 10 === 0 ? datum.label : ''", "grid": true, "zindex": 1, "labelPadding": 4, "titlePadding": 9}},
            "y": {"type": "quantitative", "scale": {"domain": [0, 320], "reverse": true, "nice": false, "zero": false}, "axis": {"title": "Temperature (°C)", "values": [0,20,40,60,80,100,120,140,160,180,200,220,240,260,280,300], "labelExpr": "datum.value % 60 === 0 ? datum.label : ''", "grid": true, "zindex": 1, "labelPadding": 8, "titlePadding": 12}}
          },
          "layer": [
            {"data": {"name": "bands"}, "mark": {"type": "rect"}, "encoding": {"x": {"field": "t"}, "x2": {"field": "t2"}, "y": {"datum": -8.1}, "y2": {"datum": 401.1}, "color": {"field": "b", "type": "nominal", "scale": {"domain": ["d", "l"], "range": ["#94cce4", "#d0e7f4"]}, "legend": null}}},
            {"data": {"values": [{}]}, "mark": {"type": "rule", "color": "white", "strokeWidth": 1.5}, "encoding": {"x": {"datum": 59.5}, "y": {"datum": -6.6}, "y2": {"datum": 399.6}}},
            {"data": {"name": "green"}, "mark": {"type": "rule", "color": "#17774a", "strokeDash": [5, 3], "strokeWidth": 1.5}, "encoding": {"x": {"datum": 120}, "x2": {"datum": 0}, "y": {"field": "T"}}},
            {"data": {"name": "p1"}, "mark": {"type": "line", "color": "#c2429f", "strokeWidth": 1.1}, "encoding": {"x": {"field": "t"}, "y": {"field": "T"}, "detail": {"field": "i"}, "order": {"value": null}}},
            {"data": {"name": "boxA"}, "mark": {"type": "rect", "filled": false, "color": "#4b3c9e", "strokeWidth": 2}, "encoding": {"x": {"field": "t"}, "x2": {"field": "t2"}, "y": {"field": "T"}, "y2": {"field": "T2"}}},
            {"data": {"name": "r1"}, "mark": {"type": "rect", "filled": false, "color": "#e0362a", "strokeWidth": 1.8}, "encoding": {"x": {"field": "t"}, "x2": {"field": "t2"}, "y": {"field": "T"}, "y2": {"field": "T2"}}},
            {"data": {"name": "b1"}, "mark": {"type": "line", "color": "#111", "strokeWidth": 2.5, "strokeDash": [7, 4]}, "encoding": {"x": {"field": "t"}, "y": {"field": "T"}, "order": {"value": null}}},
            {"data": {"values": [{}]}, "mark": {"type": "text", "text": "AP08", "fontSize": 23, "fontWeight": "bold", "align": "left", "baseline": "alphabetic"}, "encoding": {"x": {"datum": 116.3}, "y": {"datum": 24}}},
            {"data": {"values": [{}]}, "mark": {"type": "text", "text": "1571m", "fontSize": 23, "align": "left", "baseline": "alphabetic"}, "encoding": {"x": {"datum": 116.3}, "y": {"datum": 48.5}}},
            {"data": {"values": [{}]}, "mark": {"type": "text", "text": "Bihor", "fontSize": 23, "fontWeight": "bold", "align": "left", "baseline": "alphabetic", "color": "#111"}, "encoding": {"x": {"datum": 140.5}, "y": {"datum": -24.4}}}
          ]
        },
        {
          "width": 223, "height": 315,
          "encoding": {
            "x": {"type": "quantitative", "scale": {"domain": [0, 20], "nice": false}, "axis": {"title": "Length (µm)", "values": [0,1,2,3,4,5,6,7,8,9,10,11,12,13,14,15,16,17,18,19,20], "labelExpr": "datum.value % 4 === 0 ? datum.label : ''", "grid": true, "labelPadding": 4, "titlePadding": 9}},
            "y": {"type": "quantitative", "scale": {"domain": [0, 0.39], "nice": false}, "axis": {"title": "Frequency", "values": [0,0.05,0.1,0.15,0.2,0.25,0.3,0.35], "format": ".2f", "grid": true, "labelPadding": 7, "titlePadding": 14}}
          },
          "layer": [
            {"data": {"name": "h1"}, "mark": {"type": "rect", "color": "#d8301f", "stroke": "#111", "strokeWidth": 1}, "encoding": {"x": {"field": "d"}, "x2": {"field": "d2"}, "y": {"field": "v"}, "y2": {"datum": 0}}},
            {"data": {"name": "c1"}, "mark": {"type": "line", "color": "#111", "strokeWidth": 1.4, "interpolate": "monotone", "clip": true}, "encoding": {"x": {"field": "d"}, "y": {"field": "v"}}},
            {"data": {"name": "c1"}, "transform": [{"filter": {"field": "d", "range": [12.2, 16.1]}}], "mark": {"type": "line", "color": "white", "strokeWidth": 1.6, "strokeDash": [4, 4], "interpolate": "monotone", "clip": true}, "encoding": {"x": {"field": "d"}, "y": {"field": "v"}}},
            {"data": {"values": [{}]}, "mark": {"type": "text", "text": "AFT age (Ma)", "fontSize": 19.6, "fontWeight": "bold", "align": "left", "baseline": "alphabetic"}, "encoding": {"x": {"datum": 0.55}, "y": {"datum": 0.368}}},
            {"data": {"values": [{}]}, "mark": {"type": "text", "text": "Model: 49.0\nMeasured:\n49.0±7.7\nGOF: 0.98", "lineBreak": "\n", "lineHeight": 19.4, "fontSize": 19.6, "align": "left", "baseline": "alphabetic"}, "encoding": {"x": {"datum": 0.55}, "y": {"datum": 0.344}}},
            {"data": {"values": [{}]}, "mark": {"type": "text", "text": "MTL (µm)", "fontSize": 19.6, "fontWeight": "bold", "align": "left", "baseline": "alphabetic"}, "encoding": {"x": {"datum": 0.55}, "y": {"datum": 0.2239}}},
            {"data": {"values": [{}]}, "mark": {"type": "text", "text": "Model:\n14.12±1.26\nMeasured:\n14.01±1.13\nGOF: 0.99", "lineBreak": "\n", "lineHeight": 19.4, "fontSize": 19.6, "align": "left", "baseline": "alphabetic"}, "encoding": {"x": {"datum": 0.55}, "y": {"datum": 0.1999}}},
            {"data": {"values": [{}]}, "mark": {"type": "text", "text": "N=42", "fontSize": 19.6, "align": "left", "baseline": "alphabetic"}, "encoding": {"x": {"datum": 0.55}, "y": {"datum": 0.0557}}}
          ]
        }
      ]
    },
    {
      "spacing": 41,
      "hconcat": [
        {
          "width": 380, "height": 315,
          "encoding": {
            "x": {"type": "quantitative", "scale": {"domain": [120, 0], "nice": false, "zero": false}, "axis": {"title": "Time (Ma)", "values": [120,115,110,105,100,95,90,85,80,75,70,65,60,55,50,45,40,35,30,25,20,15,10,5,0], "labelExpr": "datum.value % 10 === 0 ? datum.label : ''", "grid": true, "zindex": 1, "labelPadding": 4, "titlePadding": 9}},
            "y": {"type": "quantitative", "scale": {"domain": [0, 320], "reverse": true, "nice": false, "zero": false}, "axis": {"title": "Temperature (°C)", "values": [0,20,40,60,80,100,120,140,160,180,200,220,240,260,280,300], "labelExpr": "datum.value % 60 === 0 ? datum.label : ''", "grid": true, "zindex": 1, "labelPadding": 8, "titlePadding": 12}}
          },
          "layer": [
            {"data": {"name": "bands"}, "mark": {"type": "rect"}, "encoding": {"x": {"field": "t"}, "x2": {"field": "t2"}, "y": {"datum": -60.95}, "y2": {"datum": 398.2}, "color": {"field": "b", "type": "nominal", "scale": {"domain": ["d", "l"], "range": ["#94cce4", "#d0e7f4"]}, "legend": null}}},
            {"data": {"values": [{}]}, "mark": {"type": "rule", "color": "white", "strokeWidth": 1.5}, "encoding": {"x": {"datum": 59.5}, "y": {"datum": -59.4}, "y2": {"datum": 396.7}}},
            {"data": {"name": "green"}, "mark": {"type": "rule", "color": "#17774a", "strokeDash": [5, 3], "strokeWidth": 1.5}, "encoding": {"x": {"datum": 120}, "x2": {"datum": 0}, "y": {"field": "T"}}},
            {"data": {"name": "p2"}, "mark": {"type": "line", "color": "#c2429f", "strokeWidth": 1.1}, "encoding": {"x": {"field": "t"}, "y": {"field": "T"}, "detail": {"field": "i"}, "order": {"value": null}}},
            {"data": {"name": "boxA"}, "mark": {"type": "rect", "filled": false, "color": "#4b3c9e", "strokeWidth": 2}, "encoding": {"x": {"field": "t"}, "x2": {"field": "t2"}, "y": {"field": "T"}, "y2": {"field": "T2"}}},
            {"data": {"name": "r2"}, "mark": {"type": "rect", "filled": false, "color": "#e0362a", "strokeWidth": 1.8}, "encoding": {"x": {"field": "t"}, "x2": {"field": "t2"}, "y": {"field": "T"}, "y2": {"field": "T2"}}},
            {"data": {"name": "b2"}, "mark": {"type": "line", "color": "#111", "strokeWidth": 2.5, "strokeDash": [7, 4]}, "encoding": {"x": {"field": "t"}, "y": {"field": "T"}, "order": {"value": null}}},
            {"data": {"values": [{}]}, "mark": {"type": "text", "text": "AP41", "fontSize": 23, "fontWeight": "bold", "align": "left", "baseline": "alphabetic"}, "encoding": {"x": {"datum": 116.3}, "y": {"datum": 24}}},
            {"data": {"values": [{}]}, "mark": {"type": "text", "text": "552m", "fontSize": 23, "align": "left", "baseline": "alphabetic"}, "encoding": {"x": {"datum": 116.3}, "y": {"datum": 48.5}}},
            {"data": {"values": [{}]}, "mark": {"type": "text", "text": "Baia de Arieş", "fontSize": 23, "fontWeight": "bold", "align": "left", "baseline": "alphabetic", "color": "#111"}, "encoding": {"x": {"datum": 140.5}, "y": {"datum": -28.4}}}
          ]
        },
        {
          "width": 223, "height": 315,
          "encoding": {
            "x": {"type": "quantitative", "scale": {"domain": [0, 20], "nice": false}, "axis": {"title": "Length (µm)", "values": [0,1,2,3,4,5,6,7,8,9,10,11,12,13,14,15,16,17,18,19,20], "labelExpr": "datum.value % 4 === 0 ? datum.label : ''", "grid": true, "labelPadding": 4, "titlePadding": 9}},
            "y": {"type": "quantitative", "scale": {"domain": [0, 0.39], "nice": false}, "axis": {"title": "Frequency", "values": [0,0.05,0.1,0.15,0.2,0.25,0.3,0.35], "format": ".2f", "grid": true, "labelPadding": 7, "titlePadding": 14}}
          },
          "layer": [
            {"data": {"name": "h2"}, "mark": {"type": "rect", "color": "#d8301f", "stroke": "#111", "strokeWidth": 1}, "encoding": {"x": {"field": "d"}, "x2": {"field": "d2"}, "y": {"field": "v"}, "y2": {"datum": 0}}},
            {"data": {"name": "c2"}, "mark": {"type": "line", "color": "#111", "strokeWidth": 1.4, "interpolate": "monotone", "clip": true}, "encoding": {"x": {"field": "d"}, "y": {"field": "v"}}},
            {"data": {"name": "c2"}, "transform": [{"filter": {"field": "d", "range": [12.3, 16.0]}}], "mark": {"type": "line", "color": "white", "strokeWidth": 1.6, "strokeDash": [4, 4], "interpolate": "monotone", "clip": true}, "encoding": {"x": {"field": "d"}, "y": {"field": "v"}}},
            {"data": {"values": [{}]}, "mark": {"type": "text", "text": "AFT age (Ma)", "fontSize": 19.6, "fontWeight": "bold", "align": "left", "baseline": "alphabetic"}, "encoding": {"x": {"datum": 0.6}, "y": {"datum": 0.367}}},
            {"data": {"values": [{}]}, "mark": {"type": "text", "text": "Model: 52.8\nMeasured:\n52.9±9.5\nGOF: 0.98", "lineBreak": "\n", "lineHeight": 19.4, "fontSize": 19.6, "align": "left", "baseline": "alphabetic"}, "encoding": {"x": {"datum": 0.6}, "y": {"datum": 0.343}}},
            {"data": {"values": [{}]}, "mark": {"type": "text", "text": "MTL (µm)", "fontSize": 19.6, "fontWeight": "bold", "align": "left", "baseline": "alphabetic"}, "encoding": {"x": {"datum": 0.6}, "y": {"datum": 0.2229}}},
            {"data": {"values": [{}]}, "mark": {"type": "text", "text": "Model:\n14.03±1.16\nMeasured:\n13.95±1.03\nGOF: 0.94", "lineBreak": "\n", "lineHeight": 19.4, "fontSize": 19.6, "align": "left", "baseline": "alphabetic"}, "encoding": {"x": {"datum": 0.6}, "y": {"datum": 0.1989}}},
            {"data": {"values": [{}]}, "mark": {"type": "text", "text": "N=100", "fontSize": 19.6, "align": "left", "baseline": "alphabetic"}, "encoding": {"x": {"datum": 0.6}, "y": {"datum": 0.0547}}}
          ]
        }
      ]
    },
    {
      "spacing": 41,
      "hconcat": [
        {
          "width": 380, "height": 315,
          "encoding": {
            "x": {"type": "quantitative", "scale": {"domain": [120, 0], "nice": false, "zero": false}, "axis": {"title": "Time (Ma)", "values": [120,115,110,105,100,95,90,85,80,75,70,65,60,55,50,45,40,35,30,25,20,15,10,5,0], "labelExpr": "datum.value % 10 === 0 ? datum.label : ''", "grid": true, "zindex": 1, "labelPadding": 4, "titlePadding": 9}},
            "y": {"type": "quantitative", "scale": {"domain": [0, 320], "reverse": true, "nice": false, "zero": false}, "axis": {"title": "Temperature (°C)", "values": [0,20,40,60,80,100,120,140,160,180,200,220,240,260,280,300], "labelExpr": "datum.value % 60 === 0 ? datum.label : ''", "grid": true, "zindex": 1, "labelPadding": 8, "titlePadding": 12}}
          },
          "layer": [
            {"data": {"name": "bands"}, "mark": {"type": "rect"}, "encoding": {"x": {"field": "t"}, "x2": {"field": "t2"}, "y": {"datum": -20.3}, "y2": {"datum": 389.6}, "color": {"field": "b", "type": "nominal", "scale": {"domain": ["d", "l"], "range": ["#94cce4", "#d0e7f4"]}, "legend": null}}},
            {"data": {"values": [{}]}, "mark": {"type": "rule", "color": "white", "strokeWidth": 1.5}, "encoding": {"x": {"datum": 59.5}, "y": {"datum": -18.8}, "y2": {"datum": 388.1}}},
            {"data": {"name": "green"}, "mark": {"type": "rule", "color": "#17774a", "strokeDash": [5, 3], "strokeWidth": 1.5}, "encoding": {"x": {"datum": 120}, "x2": {"datum": 0}, "y": {"field": "T"}}},
            {"data": {"name": "p3"}, "mark": {"type": "line", "color": "#c2429f", "strokeWidth": 1.1}, "encoding": {"x": {"field": "t"}, "y": {"field": "T"}, "detail": {"field": "i"}, "order": {"value": null}}},
            {"data": {"name": "boxB"}, "mark": {"type": "rect", "filled": false, "color": "#4b3c9e", "strokeWidth": 2}, "encoding": {"x": {"field": "t"}, "x2": {"field": "t2"}, "y": {"field": "T"}, "y2": {"field": "T2"}}},
            {"data": {"name": "r3"}, "mark": {"type": "rect", "filled": false, "color": "#e0362a", "strokeWidth": 1.8}, "encoding": {"x": {"field": "t"}, "x2": {"field": "t2"}, "y": {"field": "T"}, "y2": {"field": "T2"}}},
            {"data": {"name": "b3"}, "mark": {"type": "line", "color": "#111", "strokeWidth": 2.5, "strokeDash": [7, 4]}, "encoding": {"x": {"field": "t"}, "y": {"field": "T"}, "order": {"value": null}}},
            {"data": {"values": [{}]}, "mark": {"type": "text", "text": "AP22", "fontSize": 23, "fontWeight": "bold", "align": "left", "baseline": "alphabetic"}, "encoding": {"x": {"datum": 106.5}, "y": {"datum": 24}}},
            {"data": {"values": [{}]}, "mark": {"type": "text", "text": "410m", "fontSize": 23, "align": "left", "baseline": "alphabetic"}, "encoding": {"x": {"datum": 106.5}, "y": {"datum": 48.5}}}
          ]
        },
        {
          "width": 223, "height": 315,
          "encoding": {
            "x": {"type": "quantitative", "scale": {"domain": [0, 20], "nice": false}, "axis": {"title": "Length (µm)", "values": [0,1,2,3,4,5,6,7,8,9,10,11,12,13,14,15,16,17,18,19,20], "labelExpr": "datum.value % 4 === 0 ? datum.label : ''", "grid": true, "labelPadding": 4, "titlePadding": 9}},
            "y": {"type": "quantitative", "scale": {"domain": [0, 0.39], "nice": false}, "axis": {"title": "Frequency", "values": [0,0.05,0.1,0.15,0.2,0.25,0.3,0.35], "format": ".2f", "grid": true, "labelPadding": 7, "titlePadding": 14}}
          },
          "layer": [
            {"data": {"name": "h3"}, "mark": {"type": "rect", "color": "#d8301f", "stroke": "#111", "strokeWidth": 1}, "encoding": {"x": {"field": "d"}, "x2": {"field": "d2"}, "y": {"field": "v"}, "y2": {"datum": 0}}},
            {"data": {"name": "c3"}, "mark": {"type": "line", "color": "#111", "strokeWidth": 1.4, "interpolate": "monotone", "clip": true}, "encoding": {"x": {"field": "d"}, "y": {"field": "v"}}},
            {"data": {"name": "c3"}, "transform": [{"filter": {"field": "d", "range": [12.1, 16.1]}}], "mark": {"type": "line", "color": "white", "strokeWidth": 1.6, "strokeDash": [4, 4], "interpolate": "monotone", "clip": true}, "encoding": {"x": {"field": "d"}, "y": {"field": "v"}}},
            {"data": {"values": [{}]}, "mark": {"type": "text", "text": "AFT age (Ma)", "fontSize": 19.6, "fontWeight": "bold", "align": "left", "baseline": "alphabetic"}, "encoding": {"x": {"datum": 0.6}, "y": {"datum": 0.367}}},
            {"data": {"values": [{}]}, "mark": {"type": "text", "text": "Model: 59.3\nMeasured:\n60.3±9.9\nGOF: 0.85", "lineBreak": "\n", "lineHeight": 19.4, "fontSize": 19.6, "align": "left", "baseline": "alphabetic"}, "encoding": {"x": {"datum": 0.6}, "y": {"datum": 0.343}}},
            {"data": {"values": [{}]}, "mark": {"type": "text", "text": "MTL (µm)", "fontSize": 19.6, "fontWeight": "bold", "align": "left", "baseline": "alphabetic"}, "encoding": {"x": {"datum": 0.6}, "y": {"datum": 0.2229}}},
            {"data": {"values": [{}]}, "mark": {"type": "text", "text": "Model:\n14.18±0.92\nMeasured:\n14.14±0.90\nGOF: 0.93", "lineBreak": "\n", "lineHeight": 19.4, "fontSize": 19.6, "align": "left", "baseline": "alphabetic"}, "encoding": {"x": {"datum": 0.6}, "y": {"datum": 0.1989}}},
            {"data": {"values": [{}]}, "mark": {"type": "text", "text": "N=39", "fontSize": 19.6, "align": "left", "baseline": "alphabetic"}, "encoding": {"x": {"datum": 0.6}, "y": {"datum": 0.0547}}}
          ]
        }
      ]
    },
    {
      "spacing": 41,
      "hconcat": [
        {
          "width": 380, "height": 315,
          "encoding": {
            "x": {"type": "quantitative", "scale": {"domain": [120, 0], "nice": false, "zero": false}, "axis": {"title": "Time (Ma)", "values": [120,115,110,105,100,95,90,85,80,75,70,65,60,55,50,45,40,35,30,25,20,15,10,5,0], "labelExpr": "datum.value % 10 === 0 ? datum.label : ''", "grid": true, "zindex": 1, "labelPadding": 4, "titlePadding": 9}},
            "y": {"type": "quantitative", "scale": {"domain": [0, 320], "reverse": true, "nice": false, "zero": false}, "axis": {"title": "Temperature (°C)", "values": [0,20,40,60,80,100,120,140,160,180,200,220,240,260,280,300], "labelExpr": "datum.value % 60 === 0 ? datum.label : ''", "grid": true, "zindex": 1, "labelPadding": 8, "titlePadding": 12}}
          },
          "layer": [
            {"data": {"name": "bands"}, "mark": {"type": "rect"}, "encoding": {"x": {"field": "t"}, "x2": {"field": "t2"}, "y": {"datum": -20.3}, "y2": {"datum": 400}, "color": {"field": "b", "type": "nominal", "scale": {"domain": ["d", "l"], "range": ["#94cce4", "#d0e7f4"]}, "legend": null}}},
            {"data": {"values": [{}]}, "mark": {"type": "rule", "color": "white", "strokeWidth": 1.5}, "encoding": {"x": {"datum": 59.5}, "y": {"datum": -18.8}, "y2": {"datum": 398.5}}},
            {"data": {"name": "green"}, "mark": {"type": "rule", "color": "#17774a", "strokeDash": [5, 3], "strokeWidth": 1.5}, "encoding": {"x": {"datum": 120}, "x2": {"datum": 0}, "y": {"field": "T"}}},
            {"data": {"name": "p4"}, "mark": {"type": "line", "color": "#c2429f", "strokeWidth": 1.1}, "encoding": {"x": {"field": "t"}, "y": {"field": "T"}, "detail": {"field": "i"}, "order": {"value": null}}},
            {"data": {"name": "boxB"}, "mark": {"type": "rect", "filled": false, "color": "#4b3c9e", "strokeWidth": 2}, "encoding": {"x": {"field": "t"}, "x2": {"field": "t2"}, "y": {"field": "T"}, "y2": {"field": "T2"}}},
            {"data": {"name": "r4"}, "mark": {"type": "rect", "filled": false, "color": "#e0362a", "strokeWidth": 1.8}, "encoding": {"x": {"field": "t"}, "x2": {"field": "t2"}, "y": {"field": "T"}, "y2": {"field": "T2"}}},
            {"data": {"name": "b4"}, "mark": {"type": "line", "color": "#111", "strokeWidth": 2.5, "strokeDash": [7, 4]}, "encoding": {"x": {"field": "t"}, "y": {"field": "T"}, "order": {"value": null}}},
            {"data": {"values": [{}]}, "mark": {"type": "text", "text": "AP24", "fontSize": 23, "fontWeight": "bold", "align": "left", "baseline": "alphabetic"}, "encoding": {"x": {"datum": 106.5}, "y": {"datum": 24}}},
            {"data": {"values": [{}]}, "mark": {"type": "text", "text": "423m", "fontSize": 23, "align": "left", "baseline": "alphabetic"}, "encoding": {"x": {"datum": 106.5}, "y": {"datum": 48.5}}}
          ]
        },
        {
          "width": 223, "height": 315,
          "encoding": {
            "x": {"type": "quantitative", "scale": {"domain": [0, 20], "nice": false}, "axis": {"title": "Length (µm)", "values": [0,1,2,3,4,5,6,7,8,9,10,11,12,13,14,15,16,17,18,19,20], "labelExpr": "datum.value % 4 === 0 ? datum.label : ''", "grid": true, "labelPadding": 4, "titlePadding": 9}},
            "y": {"type": "quantitative", "scale": {"domain": [0, 0.39], "nice": false}, "axis": {"title": "Frequency", "values": [0,0.05,0.1,0.15,0.2,0.25,0.3,0.35], "format": ".2f", "grid": true, "labelPadding": 7, "titlePadding": 14}}
          },
          "layer": [
            {"data": {"name": "h4"}, "mark": {"type": "rect", "color": "#d8301f", "stroke": "#111", "strokeWidth": 1}, "encoding": {"x": {"field": "d"}, "x2": {"field": "d2"}, "y": {"field": "v"}, "y2": {"datum": 0}}},
            {"data": {"name": "c4"}, "mark": {"type": "line", "color": "#111", "strokeWidth": 1.4, "interpolate": "monotone", "clip": true}, "encoding": {"x": {"field": "d"}, "y": {"field": "v"}}},
            {"data": {"name": "c4"}, "transform": [{"filter": {"field": "d", "range": [12.9, 16.0]}}], "mark": {"type": "line", "color": "white", "strokeWidth": 1.6, "strokeDash": [4, 4], "interpolate": "monotone", "clip": true}, "encoding": {"x": {"field": "d"}, "y": {"field": "v"}}},
            {"data": {"values": [{}]}, "mark": {"type": "text", "text": "AFT age (Ma)", "fontSize": 19.6, "fontWeight": "bold", "align": "left", "baseline": "alphabetic"}, "encoding": {"x": {"datum": 0.8}, "y": {"datum": 0.368}}},
            {"data": {"values": [{}]}, "mark": {"type": "text", "text": "Model: 58.7\nMeasured:\n59.7±8.7\nGOF: 0.80", "lineBreak": "\n", "lineHeight": 19.4, "fontSize": 19.6, "align": "left", "baseline": "alphabetic"}, "encoding": {"x": {"datum": 0.8}, "y": {"datum": 0.344}}},
            {"data": {"values": [{}]}, "mark": {"type": "text", "text": "MTL (µm)", "fontSize": 19.6, "fontWeight": "bold", "align": "left", "baseline": "alphabetic"}, "encoding": {"x": {"datum": 0.8}, "y": {"datum": 0.2239}}},
            {"data": {"values": [{}]}, "mark": {"type": "text", "text": "Model:\n14.37±0.86\nMeasured:\n14.26±0.68\nGOF: 0.87", "lineBreak": "\n", "lineHeight": 19.4, "fontSize": 19.6, "align": "left", "baseline": "alphabetic"}, "encoding": {"x": {"datum": 0.8}, "y": {"datum": 0.1999}}},
            {"data": {"values": [{}]}, "mark": {"type": "text", "text": "N=100", "fontSize": 19.6, "align": "left", "baseline": "alphabetic"}, "encoding": {"x": {"datum": 0.8}, "y": {"datum": 0.0557}}}
          ]
        }
      ]
    }
  ]
}
